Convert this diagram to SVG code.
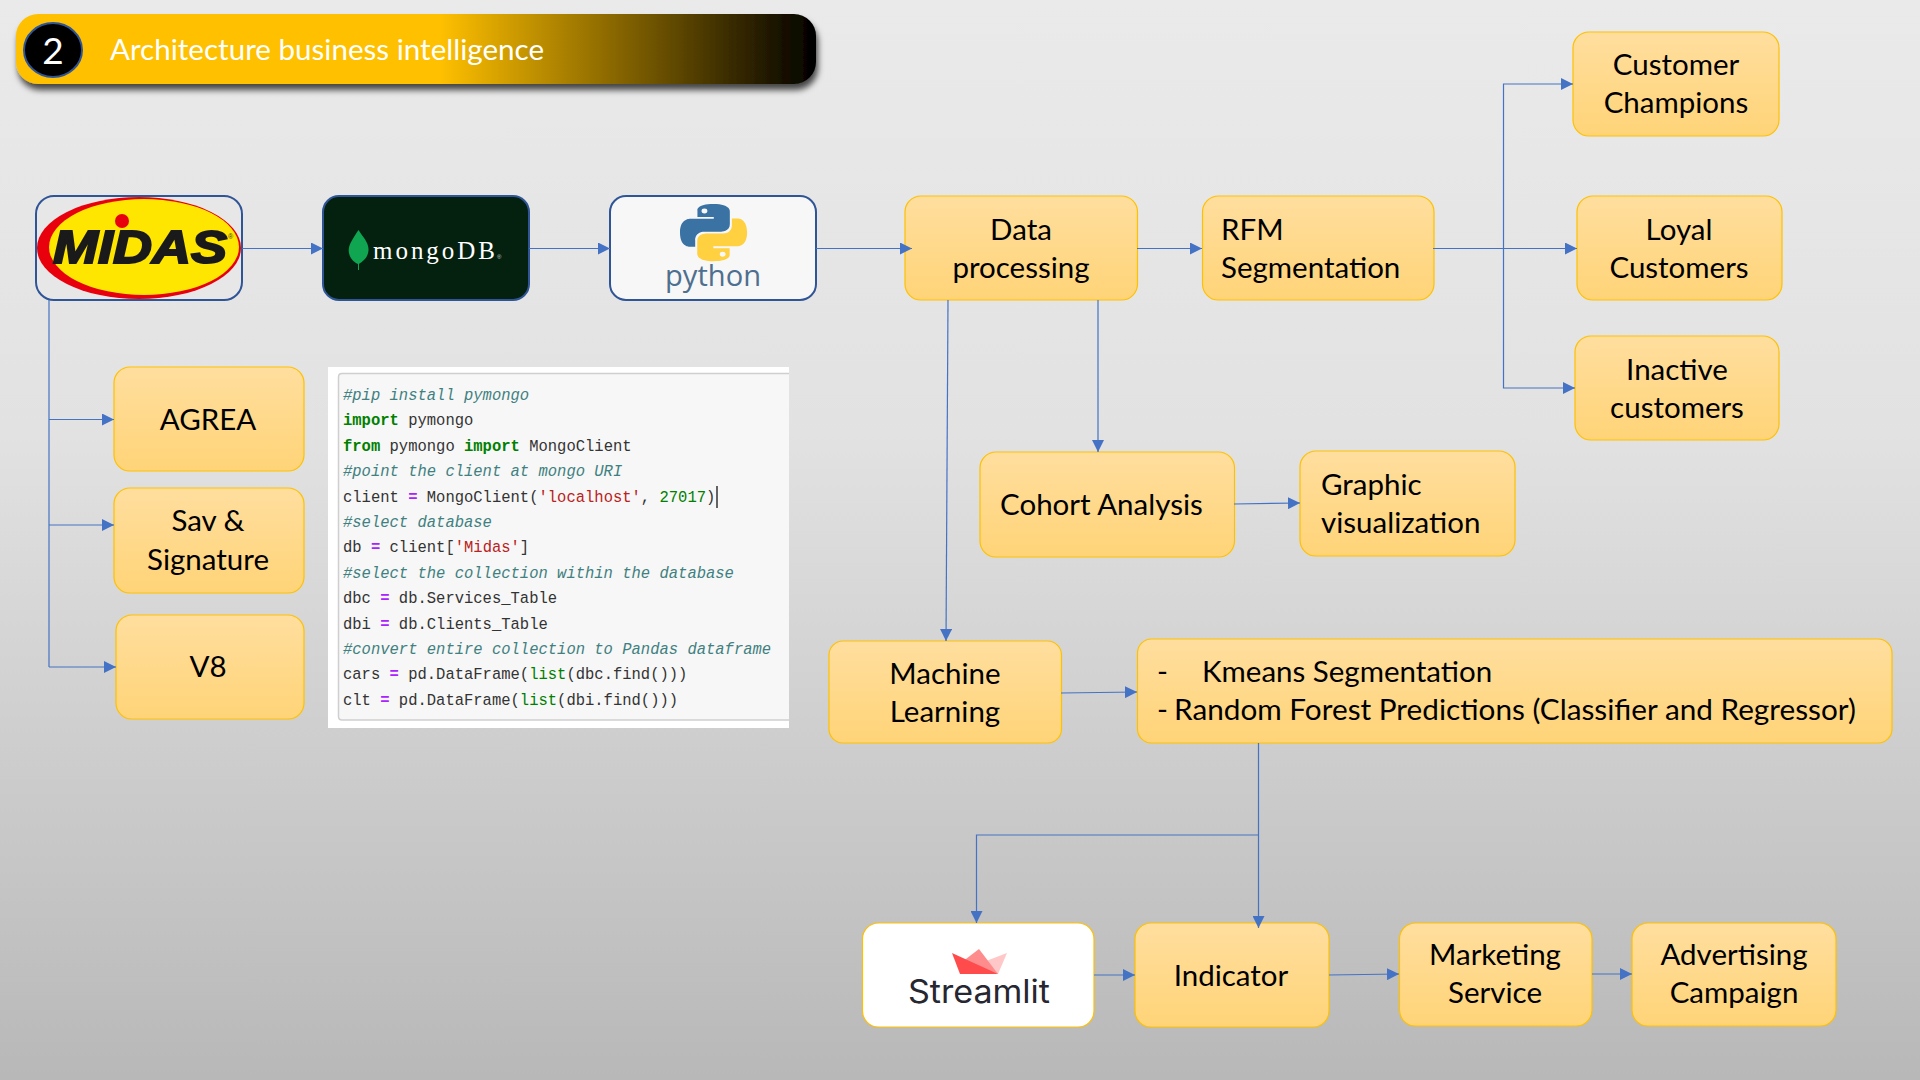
<svg xmlns="http://www.w3.org/2000/svg" width="1920" height="1080" viewBox="0 0 1920 1080">
<style>
.box{fill:url(#nodeFill);stroke:#FFC000;stroke-width:1.2}
.logo{stroke:#2F5597;stroke-width:2}
.t{font-family:Lato,"Liberation Sans",sans-serif;font-size:29.500px;fill:#000}
.m{text-anchor:middle}
.c{fill:none;stroke:#4472C4;stroke-width:1.2;marker-end:url(#arrow)}
.l{fill:none;stroke:#4472C4;stroke-width:1.2}
.code{font-family:"Liberation Mono",monospace;font-size:17px;fill:#333;white-space:pre}
.cm{fill:#408080;font-style:italic}
.kw{fill:#008000;font-weight:bold}
.op{fill:#AA22FF;font-weight:bold}
.st{fill:#BA2121}
.nb{fill:#008000}
</style>
<defs>
<linearGradient id="bg" x1="0" y1="0" x2="0" y2="1">
<stop offset="0" stop-color="#EAEAEA"/><stop offset="0.4" stop-color="#E2E2E2"/><stop offset="1" stop-color="#B8B8B8"/>
</linearGradient>
<linearGradient id="nodeFill" x1="0" y1="0" x2="0" y2="1">
<stop offset="0" stop-color="#FFDE9E"/><stop offset="1" stop-color="#FFD478"/>
</linearGradient>
<linearGradient id="hdr" x1="0" y1="0" x2="1" y2="0">
<stop offset="0" stop-color="#FFC000"/><stop offset="0.53" stop-color="#FFC000"/><stop offset="1" stop-color="#000"/>
</linearGradient>
<filter id="sh" x="-5%" y="-30%" width="110%" height="170%">
<feDropShadow dx="2" dy="6" stdDeviation="3" flood-color="#000" flood-opacity="0.7"/>
</filter>
<marker id="arrow" markerUnits="userSpaceOnUse" markerWidth="12" markerHeight="12" refX="12" refY="6" orient="auto">
<path d="M0 0L12 6L0 12Z" fill="#4472C4"/>
</marker>
<path id="py" fill-rule="evenodd" d="M54.9 0C26.8 0 28.6 12.2 28.6 12.2l0 12.6h26.8v3.8H17.9S0 26.6 0 54.9c0 28.3 15.6 27.3 15.6 27.3h9.3V69s-.5-15.6 15.4-15.6h26.5s14.9.2 14.9-14.4V14.9S84 0 54.9 0zM40.1 8.5a4.8 4.8 0 1 1 0 9.6 4.8 4.8 0 0 1 0-9.6z"/>
</defs>
<rect width="1920" height="1080" fill="url(#bg)"/>

<g id="header">
<rect x="16" y="14" width="800" height="70" rx="22" fill="url(#hdr)" filter="url(#sh)"/>
<ellipse cx="53" cy="50" rx="29" ry="27" fill="#000" stroke="#2F5597" stroke-width="2"/>
<text x="53" y="64" text-anchor="middle" font-family="Lato,sans-serif" font-size="37" fill="#fff">2</text>
<text x="110" y="60" font-family="Lato,sans-serif" font-size="29.500" fill="#fff" textLength="434" lengthAdjust="spacingAndGlyphs">Architecture business intelligence</text>
</g>

<g id="node-midas">
<rect class="logo" x="36" y="196" width="206" height="104" rx="18" fill="#E7E7E7"/>
<ellipse cx="139" cy="248" rx="102" ry="51" fill="#E8000C"/>
<ellipse cx="144" cy="247" rx="95" ry="48" fill="#FFE600"/>
<circle cx="122" cy="221" r="7" fill="#E8000C"/>
<text x="53" y="263" font-family="Liberation Sans,sans-serif" font-weight="bold" font-style="italic" font-size="46" fill="#1A1A1A" stroke="#1A1A1A" stroke-width="2" textLength="174" lengthAdjust="spacingAndGlyphs">MIDAS</text>
<text x="228" y="239" font-family="Liberation Sans,sans-serif" font-size="7" fill="#333">®</text>
</g>

<g id="node-mongodb">
<rect class="logo" x="323" y="196" width="206" height="104" rx="16" fill="#04200F"/>
<path d="M358.500 230C352 240 347.500 246 349 253C350 259 355 263 358 264V270H359V264C363 261 368 258 368.500 250C369 243 363 237 358.500 230Z" fill="#10A651"/>
<text x="373" y="259" font-family="Liberation Serif,serif" font-size="25" fill="#fff" textLength="122">mongoDB</text>
<text x="497" y="259" font-family="Liberation Sans,sans-serif" font-size="6" fill="#ccc">®</text>
</g>

<g id="node-python">
<rect class="logo" x="610" y="196" width="206" height="104" rx="16" fill="#F7F7F7"/>
<g transform="translate(680 204) scale(0.61 0.52)">
<use href="#py" fill="#3A72A4"/>
<use href="#py" fill="#FFD03F" transform="rotate(180 55 55)"/>
</g>
<text x="665" y="286" font-family="Open Sans,sans-serif" font-size="30" fill="#4E6F8F" textLength="96" lengthAdjust="spacingAndGlyphs">python</text>
</g>

<g id="node-data"><rect class="box" x="905" y="196" width="232.500" height="104" rx="16"/><text class="t m" x="1021" y="240">Data</text><text class="t m" x="1021" y="278">processing</text></g>
<g id="node-rfm"><rect class="box" x="1202.500" y="196" width="231.500" height="104" rx="16"/><text class="t" x="1221" y="240">RFM</text><text class="t" x="1221" y="278">Segmentation</text></g>
<g id="node-champions"><rect class="box" x="1573" y="32" width="206" height="104" rx="16"/><text class="t m" x="1676" y="75">Customer</text><text class="t m" x="1676" y="113">Champions</text></g>
<g id="node-loyal"><rect class="box" x="1577" y="196" width="205" height="104" rx="16"/><text class="t m" x="1679" y="240">Loyal</text><text class="t m" x="1679" y="278">Customers</text></g>
<g id="node-inactive"><rect class="box" x="1575" y="336" width="204" height="104" rx="16"/><text class="t m" x="1677" y="380">Inactive</text><text class="t m" x="1677" y="418">customers</text></g>
<g id="node-agrea"><rect class="box" x="114" y="367" width="190" height="104" rx="16"/><text class="t m" x="208" y="430">AGREA</text></g>
<g id="node-sav"><rect class="box" x="114" y="488" width="190" height="105" rx="16"/><text class="t m" x="208" y="531">Sav &amp;</text><text class="t m" x="208" y="570">Signature</text></g>
<g id="node-v8"><rect class="box" x="116" y="615" width="188" height="104" rx="16"/><text class="t m" x="208" y="677">V8</text></g>
<g id="node-cohort"><rect class="box" x="980" y="452" width="254.500" height="105" rx="16"/><text class="t" x="1000" y="515">Cohort Analysis</text></g>
<g id="node-graphic"><rect class="box" x="1300" y="451" width="215" height="105" rx="16"/><text class="t" x="1321" y="495">Graphic</text><text class="t" x="1321" y="533">visualization</text></g>
<g id="node-ml"><rect class="box" x="829" y="641" width="232.500" height="102" rx="14"/><text class="t m" x="945" y="684">Machine</text><text class="t m" x="945" y="722">Learning</text></g>
<g id="node-kmeans"><rect class="box" x="1137.500" y="639" width="754.500" height="104" rx="14"/><text class="t" x="1157" y="682">-</text><text class="t" x="1202" y="682">Kmeans Segmentation</text><text class="t" x="1174" y="720" textLength="682" lengthAdjust="spacingAndGlyphs">Random Forest Predictions (Classifier and Regressor)</text><text class="t" x="1157" y="720">-</text></g>

<g id="node-streamlit">
<rect x="862.500" y="923" width="231.500" height="104" rx="16" fill="#fff" stroke="#FFC000" stroke-width="1.200"/>
<path d="M973 966L1007 953L998 974Z" fill="#FFC7C7"/>
<path d="M962 962L979 949L998 974Z" fill="#FF8C8C"/>
<path d="M952 953L998 974H960Z" fill="#FF4B4B"/>
<text x="908" y="1003" font-family="Inter,sans-serif" font-size="32" fill="#262730" textLength="142" lengthAdjust="spacingAndGlyphs">Streamlit</text>
</g>
<g id="node-indicator"><rect class="box" x="1135" y="923" width="194" height="104" rx="16"/><text class="t m" x="1231" y="986">Indicator</text></g>
<g id="node-marketing"><rect class="box" x="1399.500" y="923" width="192.500" height="103" rx="16"/><text class="t m" x="1495" y="965">Marketing</text><text class="t m" x="1495" y="1003">Service</text></g>
<g id="node-advertising"><rect class="box" x="1632" y="923" width="204" height="103" rx="16"/><text class="t m" x="1734" y="965">Advertising</text><text class="t m" x="1734" y="1003">Campaign</text></g>

<g id="code-block">
<rect x="328" y="367" width="461" height="361" fill="#fff"/>
<path d="M789 373.500H342Q338.500 373.500 338.500 377V716.500Q338.500 720 342 720H789" fill="#F7F7F7" stroke="#CFCFCF" stroke-width="1.500"/>
<g transform="translate(343 -1) scale(0.913 1)">
<text class="code" y="401"><tspan class="cm">#pip install pymongo</tspan></text>
<text class="code" y="426.400"><tspan class="kw">import</tspan> pymongo</text>
<text class="code" y="451.800"><tspan class="kw">from</tspan> pymongo <tspan class="kw">import</tspan> MongoClient</text>
<text class="code" y="477.200"><tspan class="cm">#point the client at mongo URI</tspan></text>
<text class="code" y="502.600">client <tspan class="op">=</tspan> MongoClient(<tspan class="st">'localhost'</tspan>, <tspan class="nb">27017</tspan>)</text>
<text class="code" y="528"><tspan class="cm">#select database</tspan></text>
<text class="code" y="553.400">db <tspan class="op">=</tspan> client[<tspan class="st">'Midas'</tspan>]</text>
<text class="code" y="578.800"><tspan class="cm">#select the collection within the database</tspan></text>
<text class="code" y="604.200">dbc <tspan class="op">=</tspan> db.Services_Table</text>
<text class="code" y="629.600">dbi <tspan class="op">=</tspan> db.Clients_Table</text>
<text class="code" y="655"><tspan class="cm">#convert entire collection to Pandas dataframe</tspan></text>
<text class="code" y="680.400">cars <tspan class="op">=</tspan> pd.DataFrame(<tspan class="nb">list</tspan>(dbc.find()))</text>
<text class="code" y="705.800">clt <tspan class="op">=</tspan> pd.DataFrame(<tspan class="nb">list</tspan>(dbi.find()))</text>
</g>
<path d="M717 486V508" stroke="#000" stroke-width="1.200"/>
</g>

<g id="connectors">
<path class="c" d="M242 248.500H323"/>
<path class="c" d="M529 248.500H610"/>
<path class="c" d="M816 248.500H912"/>
<path class="c" d="M1137 248.500H1202"/>
<path class="c" d="M1433 248.500H1577"/>
<path class="c" d="M1503.500 248.500V84H1573"/>
<path class="c" d="M1503.500 248.500V388H1575"/>
<path class="l" d="M49 300V667"/>
<path class="c" d="M49 419.500H114"/>
<path class="c" d="M49 525H114"/>
<path class="c" d="M49 667H116"/>
<path class="c" d="M1098 300V452"/>
<path class="c" d="M948 300L946 641"/>
<path class="c" d="M1234 504L1300 503"/>
<path class="c" d="M1061 693L1137 692"/>
<path class="c" d="M1258.500 743V928"/>
<path class="c" d="M1258.500 835H976.500V923"/>
<path class="c" d="M1094 975H1135"/>
<path class="c" d="M1329 975L1399 974"/>
<path class="c" d="M1592 974H1632"/>
</g>
</svg>
